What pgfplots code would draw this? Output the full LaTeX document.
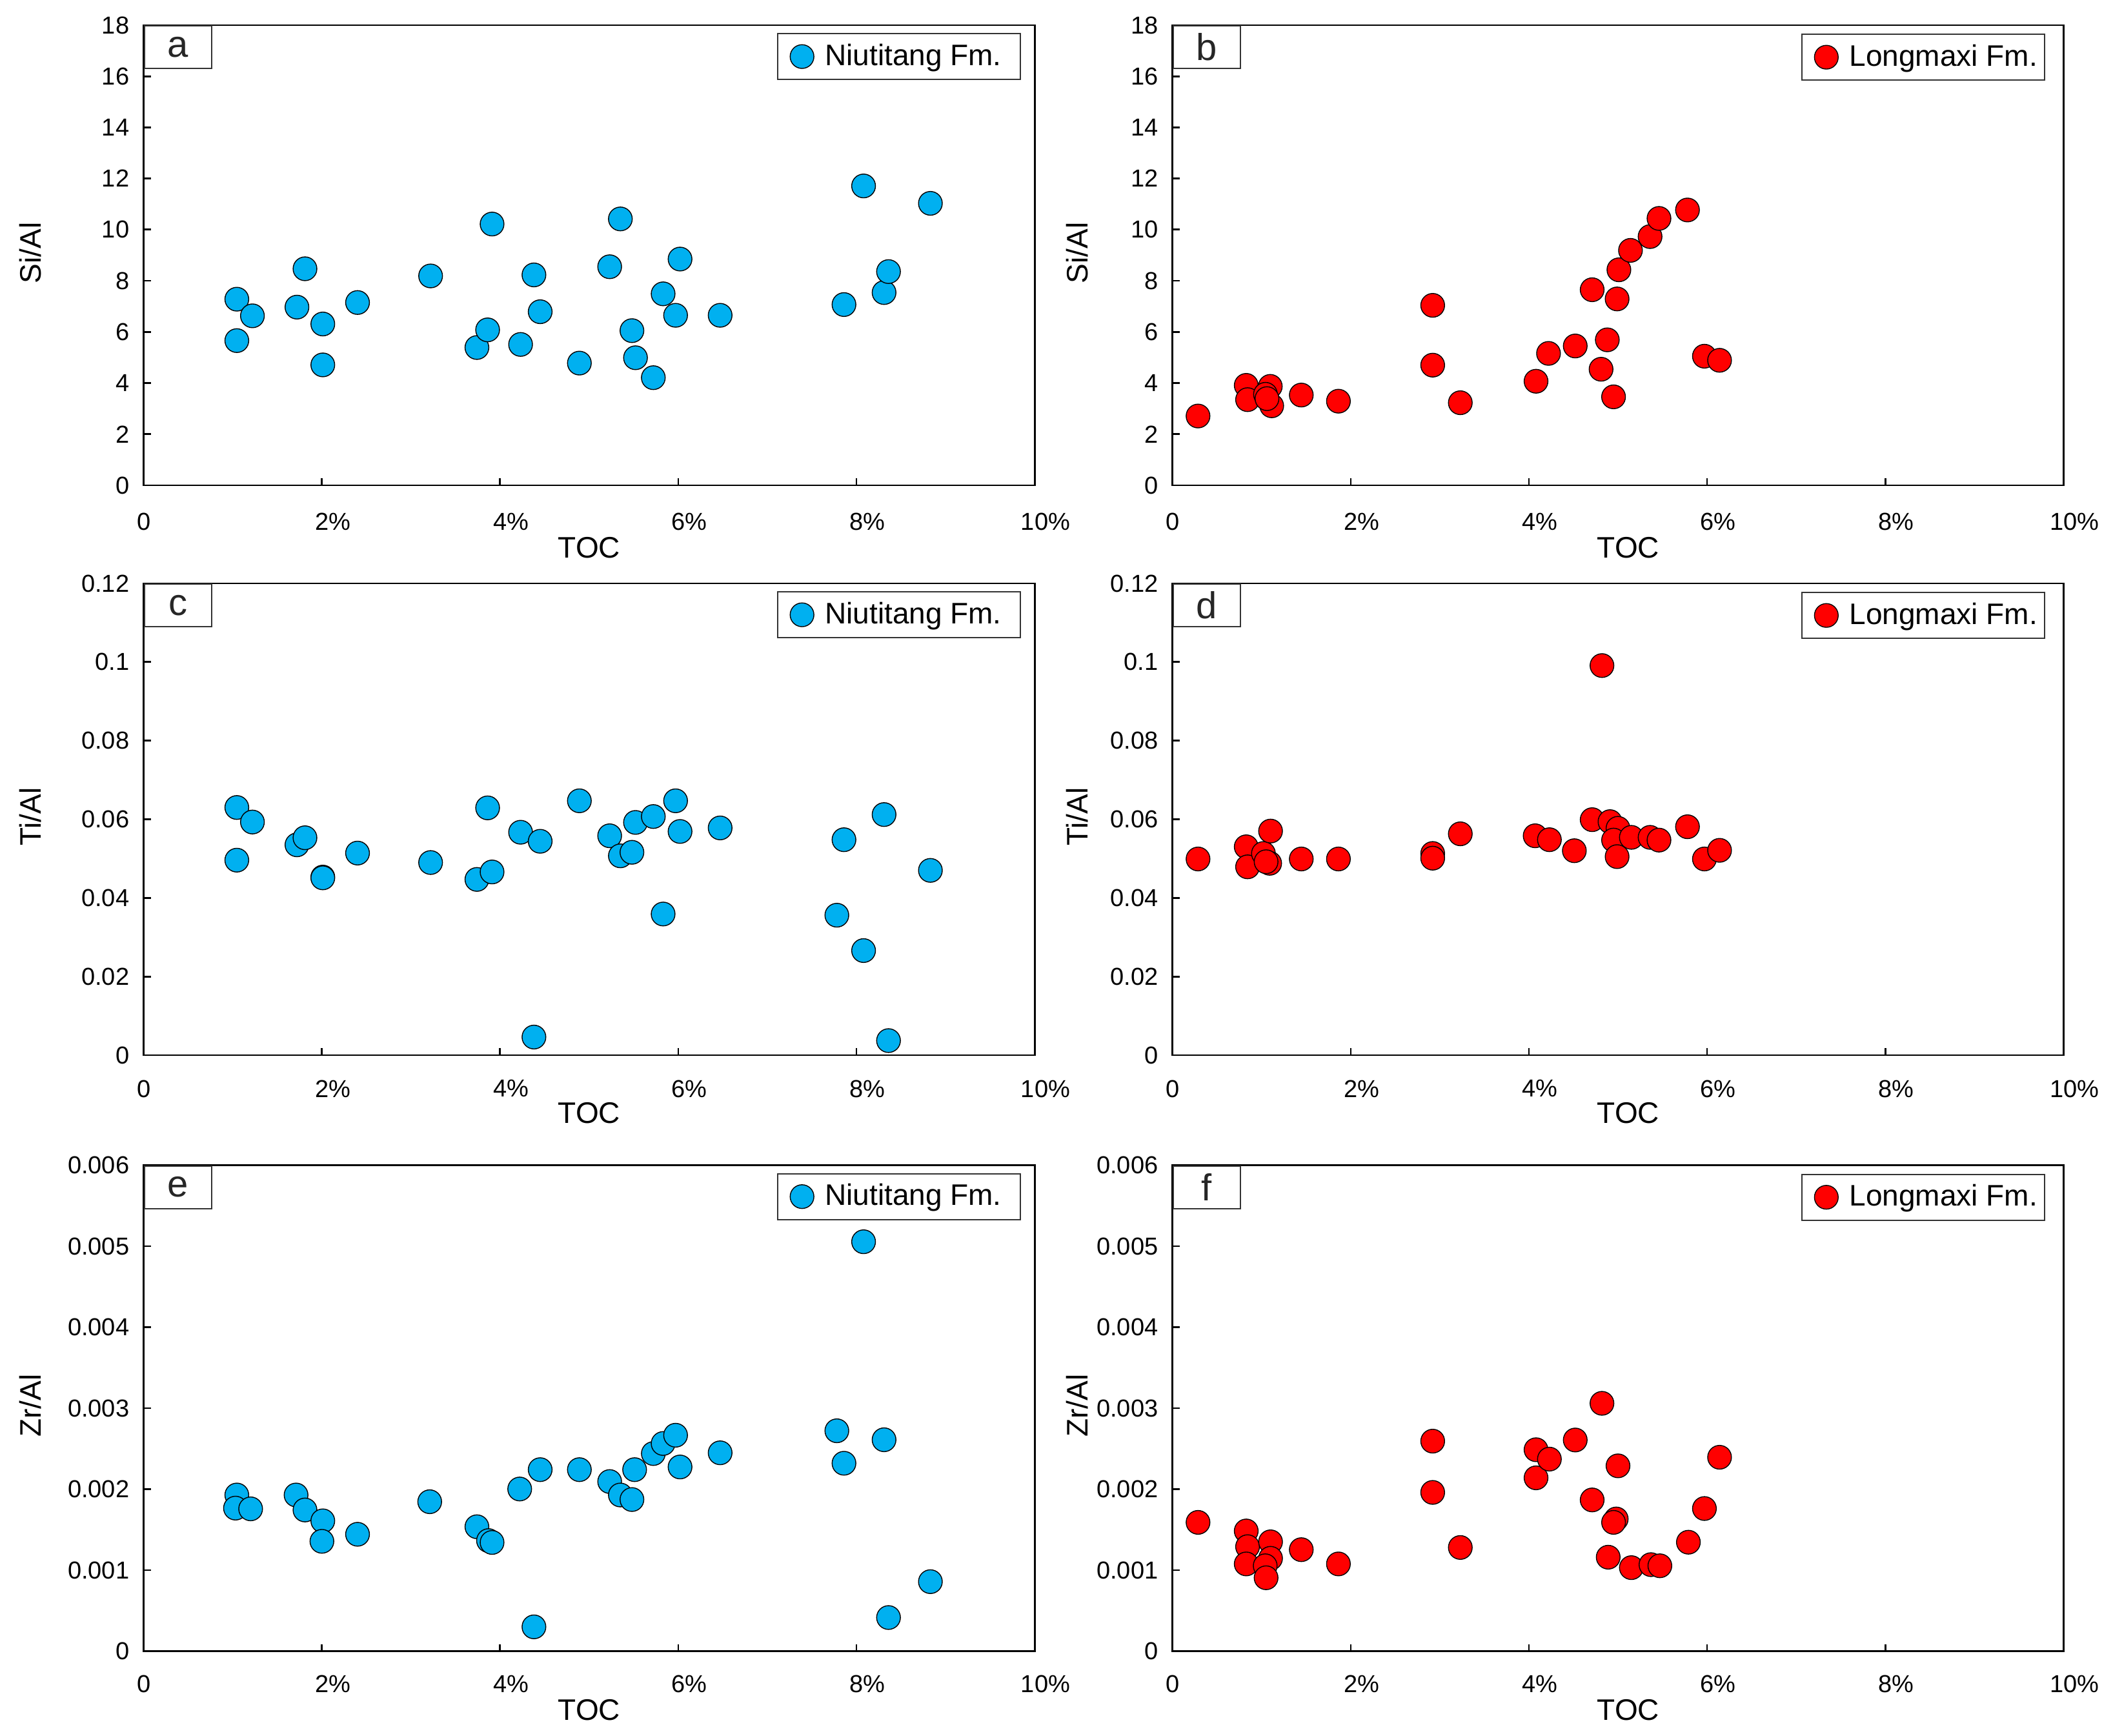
\documentclass[border=0pt]{standalone}
\usepackage{fontspec}
\setmainfont{Liberation Sans}
\usepackage{pgfplots}
\pgfplotsset{compat=1.18}
\definecolor{niublue}{RGB}{0,176,240}
\definecolor{lmxred}{RGB}{255,0,0}
\pgfplotsset{
  panel/.style={
    scale only axis, width=345.1pt, xmin=0, xmax=10, anchor=south west,
    axis line style={line width=0.7pt, black},
    tick align=inside, xtick pos=left, ytick pos=left, major tick length=2.75pt,
    every tick/.style={black, line width=0.7pt},
    xtick={0,2,4,6,8,10},
    xticklabels={0,2\rlap{\%},4\rlap{\%},6\rlap{\%},8\rlap{\%},10\rlap{\%}},
    tick label style={font=\fontsize{9.5}{11}\selectfont},
    yticklabel style={xshift=-2.1pt},
    label style={font=\fontsize{11.5}{13}\selectfont},
    xlabel={TOC},
    clip=false,
    legend cell align=left,
    legend image code/.code={\draw[draw=none] (0pt,0pt) -- (14.3pt,0pt);\draw[mark repeat=2,mark phase=2,##1] plot coordinates {(0pt,0pt)(7.4pt,0pt)(14.3pt,0pt)};},
  },
  leftpanel/.style={
    ylabel style={at={([xshift=-43.8pt]axis description cs:0,0.505)}, anchor=center},
    legend style={at={(axis description cs:1,1)}, anchor=north east, xshift=-5.25pt, yshift=-3pt,
      draw=black!80, line width=0.5pt, inner xsep=2pt, inner ysep=2pt,
      font=\fontsize{11.5}{13}\selectfont, nodes={inner sep=2pt, text depth=0.15em}},
  },
  rightpanel/.style={
    ylabel style={at={([xshift=-37pt]axis description cs:0,0.505)}, anchor=center},
    xlabel style={xshift=4pt},
    legend style={at={(axis description cs:1,1)}, anchor=north east, xshift=-7pt, yshift=-3.25pt,
      draw=black!80, line width=0.5pt, inner xsep=2pt, inner ysep=2pt,
      font=\fontsize{11.5}{13}\selectfont, nodes={inner sep=2pt, text depth=0.15em}},
  },
  rowA/.style={height=178.25pt, xticklabel style={yshift=-7.2pt},
    xlabel style={at={([yshift=-24.1pt]axis description cs:0.5,0)}, anchor=center},
    ymin=0, ymax=18, ytick={0,2,4,6,8,10,12,14,16,18},
    yticklabels={0,2,4,6,8,10,12,14,16,18}, ylabel={Si/Al}},
  rowC/.style={height=182.75pt, xticklabel style={yshift=-6.1pt},
    xlabel style={at={([yshift=-22.4pt]axis description cs:0.5,0)}, anchor=center},
    ymin=0, ymax=0.12, ytick={0,0.02,0.04,0.06,0.08,0.1,0.12},
    yticklabels={0,0.02,0.04,0.06,0.08,0.1,0.12}, ylabel={Ti/Al}},
  rowE/.style={height=188.25pt, xticklabel style={yshift=-5.85pt},
    xlabel style={at={([yshift=-22.9pt]axis description cs:0.5,0)}, anchor=center},
    ymin=0, ymax=0.006, ytick={0,0.001,0.002,0.003,0.004,0.005,0.006},
    yticklabels={0,0.001,0.002,0.003,0.004,0.005,0.006}, ylabel={Zr/Al},
    scaled y ticks=false},
  niu/.style={only marks, mark=*, mark size=4.6pt, mark options={fill=niublue, draw=black, line width=0.35pt}},
  lmx/.style={only marks, mark=*, mark size=4.6pt, mark options={fill=lmxred, draw=black, line width=0.35pt}},
}
\newcommand{\panellabel}[1]{\node[draw=black!80, line width=0.5pt, anchor=north west, minimum width=26pt,
  minimum height=16.5pt, inner sep=0pt, font=\fontsize{14.5}{15}\selectfont, text=black!85, fill=white]
  at (rel axis cs:0,1) {#1};}

\begin{document}
\begin{tikzpicture}
% ---------- a ----------
\begin{axis}[panel, leftpanel, rowA, at={(55.675pt,484.25pt)}]
\addplot[niu] table {
x y
1.045 7.28
1.045 5.66
1.22 6.63
1.72 6.97
1.81 8.47
2.01 6.31
2.01 4.71
2.40 7.15
3.22 8.19
3.74 5.39
3.86 6.08
3.91 10.22
4.23 5.51
4.38 8.23
4.45 6.79
4.89 4.78
5.23 8.55
5.35 10.42
5.48 6.05
5.52 4.99
5.72 4.21
5.83 7.49
5.97 6.65
6.02 8.85
6.47 6.65
7.86 7.07
8.08 11.71
8.31 7.54
8.36 8.36
8.83 11.03
};
\addlegendentry{\makebox[71.7pt][l]{Niutitang Fm.}}
\panellabel{a}
\end{axis}
% ---------- b ----------
\begin{axis}[panel, rightpanel, rowA, at={(454.2pt,484.25pt)}]
\addplot[lmx] table {
x y
0.286 2.71
0.827 3.91
0.842 3.35
1.097 3.87
1.113 3.11
1.043 3.56
1.06 3.39
1.445 3.53
1.862 3.29
2.92 7.04
2.92 4.70
3.23 3.23
4.08 4.07
4.22 5.16
4.52 5.45
4.71 7.65
4.81 4.54
4.88 5.69
4.95 3.46
4.99 7.29
5.01 8.43
5.14 9.19
5.36 9.73
5.46 10.44
5.78 10.77
5.97 5.05
6.14 4.89
};
\addlegendentry{\makebox[71.7pt][l]{Longmaxi Fm.}}
\panellabel{b}
\end{axis}
% ---------- c ----------
\begin{axis}[panel, leftpanel, rowC, at={(55.675pt,263.5pt)}]
\addplot[niu] table {
x y
1.045 0.0630
1.045 0.0496
1.22 0.0593
1.72 0.0535
1.81 0.0553
2.01 0.0453
2.01 0.0451
2.40 0.0514
3.22 0.0490
3.74 0.0447
3.91 0.0466
3.86 0.0629
4.23 0.0567
4.38 0.0046
4.45 0.0544
4.89 0.0647
5.23 0.0558
5.35 0.0507
5.48 0.0516
5.52 0.0592
5.72 0.0607
5.83 0.0359
5.97 0.0647
6.02 0.0569
6.47 0.0578
7.78 0.0356
7.86 0.0548
8.08 0.0266
8.31 0.0612
8.36 0.0037
8.83 0.0470
};
\addlegendentry{\makebox[71.7pt][l]{Niutitang Fm.}}
\panellabel{c}
\end{axis}
% ---------- d ----------
\begin{axis}[panel, rightpanel, rowC, at={(454.2pt,263.5pt)}]
\addplot[lmx] table {
x y
0.286 0.0499
0.827 0.0530
0.842 0.0479
1.02 0.0513
1.10 0.0570
1.09 0.0488
1.05 0.0492
1.445 0.0499
1.862 0.0499
2.92 0.0513
2.92 0.0501
3.23 0.0563
4.07 0.0558
4.23 0.0548
4.51 0.0520
4.71 0.0599
4.82 0.0991
4.91 0.0594
5.00 0.0577
4.95 0.0547
4.99 0.0505
5.15 0.0554
5.36 0.0554
5.46 0.0547
5.78 0.0581
5.97 0.0499
6.14 0.0521
};
\addlegendentry{\makebox[71.7pt][l]{Longmaxi Fm.}}
\panellabel{d}
\end{axis}
% ---------- e ----------
\begin{axis}[panel, leftpanel, rowE, at={(55.675pt,32.625pt)}]
\addplot[niu] table {
x y
1.045 0.001928
1.03 0.001766
1.20 0.001757
1.71 0.001928
1.81 0.001743
2.01 0.001609
2.00 0.001356
2.40 0.001443
3.21 0.001845
3.74 0.001536
3.87 0.001365
3.91 0.001342
4.22 0.002002
4.45 0.002241
4.38 0.000300
4.89 0.002241
5.23 0.002094
5.35 0.001928
5.48 0.001872
5.51 0.002241
5.72 0.002440
5.83 0.002564
5.97 0.002666
6.02 0.002274
6.47 0.002449
7.78 0.002721
7.86 0.002320
8.08 0.005055
8.31 0.002610
8.36 0.000415
8.83 0.000858
};
\addlegendentry{\makebox[71.7pt][l]{Niutitang Fm.}}
\panellabel{e}
\end{axis}
% ---------- f ----------
\begin{axis}[panel, rightpanel, rowE, at={(454.2pt,32.625pt)}]
\addplot[lmx] table {
x y
0.286 0.001590
0.827 0.001484
0.842 0.001290
0.827 0.001077
1.10 0.001350
1.10 0.001146
1.04 0.001054
1.05 0.000906
1.445 0.001253
1.862 0.001077
2.92 0.002593
2.92 0.001960
3.23 0.001280
4.08 0.002487
4.08 0.002140
4.23 0.002371
4.52 0.002607
4.71 0.001867
4.82 0.003060
4.89 0.001160
4.98 0.001632
4.95 0.001590
5.00 0.002288
5.15 0.001031
5.37 0.001068
5.47 0.001054
5.79 0.001345
5.97 0.001761
6.14 0.002394
};
\addlegendentry{\makebox[71.7pt][l]{Longmaxi Fm.}}
\panellabel{f}
\end{axis}
\pgfresetboundingbox
\useasboundingbox (0,0) rectangle (818.5pt,672.25pt);
\end{tikzpicture}
\end{document}
